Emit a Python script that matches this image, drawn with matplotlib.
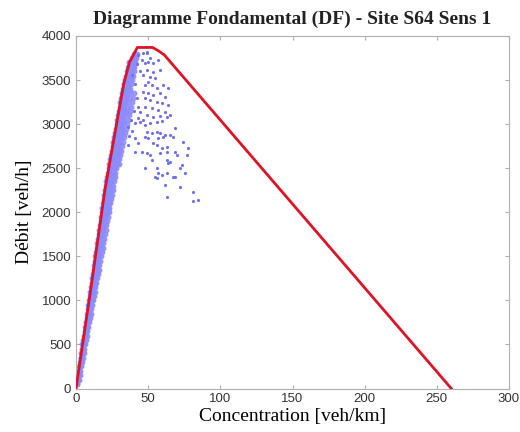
from matplotlib import pyplot as plt

# fundamental diagram (fitted polyline)
df_conc = [0, 10, 20, 27, 33, 37, 42.5, 53, 57, 61.2, 260]
df_flow = [0, 1100, 2250, 2900, 3450, 3700, 3870, 3870, 3833, 3785, 0]

# fluid regime: dense cloud, one row of concentrations per flow level
band_flow = [50, 100, 150, 200, 250, 300, 350, 400, 450, 500, 550, 600, 650,
             700, 750, 800, 850, 900, 950, 1000, 1050, 1100, 1150, 1200, 1250,
             1300, 1350, 1400, 1450, 1500, 1550, 1600, 1650, 1700, 1750, 1800,
             1850, 1900, 1950, 2000, 2050, 2100, 2150, 2200, 2250, 2300, 2350,
             2400, 2450, 2500, 2550, 2600, 2650, 2700, 2750, 2800, 2850, 2900,
             2950, 3000, 3050, 3100, 3150, 3200, 3250, 3300, 3350, 3400, 3450,
             3500, 3550, 3600, 3650, 3700, 3750, 3800]
band_conc = [
    [0.5, 1.0], [0.9, 1.5, 2.0], [1.4, 2.0, 2.6], [1.8, 2.4, 3.1],
    [2.3, 2.9, 3.6], [2.7, 3.4, 4.1], [3.2, 3.8, 4.6], [3.6, 4.3, 5.2],
    [4.1, 4.8, 5.7], [4.5, 5.3, 6.3], [5.0, 5.8, 6.8], [5.5, 6.3, 7.4],
    [5.9, 6.8, 7.9], [6.4, 7.3, 8.5], [6.8, 7.7, 9.0], [7.3, 8.2, 9.6],
    [7.7, 8.7, 10.2], [8.2, 9.2, 10.7], [8.6, 9.7, 11.3],
    [9.1, 10.1, 11.0, 11.9], [9.5, 10.5, 11.5, 12.4], [10.0, 11.0, 12.0, 13.0],
    [10.4, 11.4, 12.5, 13.5], [10.9, 11.9, 13.0, 14.1], [11.3, 12.3, 13.4, 14.6],
    [11.7, 12.8, 13.9, 15.1], [12.2, 13.2, 14.4, 15.7], [12.6, 13.6, 14.8, 16.2],
    [13.0, 14.1, 15.3, 16.8], [13.5, 14.6, 15.8, 17.3], [13.9, 15.0, 16.3, 17.8],
    [14.3, 15.5, 16.8, 18.4], [14.8, 15.9, 17.2, 18.9], [15.2, 16.4, 17.7, 19.4],
    [15.6, 16.8, 18.2, 20.0], [16.1, 17.3, 18.6, 20.5], [16.5, 17.7, 19.1, 21.0],
    [17.0, 18.2, 19.6, 21.6], [17.4, 18.6, 20.0, 22.1],
    [17.8, 19.1, 20.5, 21.6, 22.7], [18.3, 19.5, 20.9, 22.1, 23.2],
    [18.7, 20.0, 21.4, 22.6, 23.8], [19.2, 20.4, 21.8, 23.1, 24.3],
    [19.6, 20.9, 22.3, 23.6, 24.9], [20.0, 21.3, 22.7, 24.0, 25.4],
    [20.5, 21.8, 23.2, 24.5, 25.9], [21.0, 22.3, 23.6, 24.9, 26.4],
    [21.6, 22.8, 24.0, 25.4, 26.8], [22.1, 23.3, 24.5, 25.8, 27.3],
    [22.7, 23.8, 25.0, 26.3, 27.7], [23.2, 24.3, 25.5, 26.8, 28.2, 29.5],
    [23.8, 24.9, 26.0, 27.3, 28.7, 30.1], [24.3, 25.4, 26.5, 27.8, 29.2, 30.8],
    [24.8, 25.9, 27.0, 28.3, 29.6, 31.5], [25.4, 26.4, 27.6, 28.8, 30.1, 32.0],
    [25.9, 27.0, 28.1, 29.3, 30.5, 32.6], [26.5, 27.5, 28.6, 29.8, 31.1, 33.4],
    [27.0, 28.0, 29.1, 30.3, 31.7, 34.0], [27.5, 28.5, 29.6, 30.9, 32.3, 34.8],
    [28.1, 29.1, 30.2, 31.4, 32.9, 35.5], [28.6, 29.6, 30.7, 32.0, 33.5, 36.0],
    [29.2, 30.2, 31.3, 32.5, 34.0, 36.8], [29.7, 30.7, 31.8, 33.1, 34.7, 37.3],
    [30.3, 31.3, 32.4, 33.6, 35.4, 38.0], [30.8, 31.8, 32.9, 34.2, 36.0, 38.6],
    [31.4, 32.4, 33.5, 34.8, 36.6, 39.5], [31.9, 32.9, 34.0, 35.3, 37.1, 40.2],
    [32.5, 33.5, 34.6, 35.9, 37.7], [33.1, 34.1, 35.2, 36.5, 38.2],
    [33.8, 34.8, 35.9, 37.2, 38.8], [34.6, 35.6, 36.6, 37.8, 39.4],
    [35.4, 36.4, 37.4, 38.5, 39.9], [36.2, 37.2, 38.2, 39.3, 40.5],
    [37.0, 38.0, 39.0, 40.0, 41.0], [38.5, 39.5, 40.5, 41.5],
    [40.0, 41.0, 42.0],
]

# congested regime: scattered measurements
cong_conc = [36.2, 40.9, 44.4, 47.8, 51.3, 55.9, 59.4, 68.6, 49.0, 52.5, 55.9,
             58.2, 61.7, 65.1, 67.4, 47.8, 50.1, 57.0, 60.5, 40.9, 43.2, 74.4,
             53.6, 55.9, 62.9, 59.4, 77.8, 40.9, 45.5, 49.0, 51.3, 58.2, 62.9,
             68.6, 69.8, 76.7, 52.5, 62.9, 64.0, 65.1, 73.3, 47.8, 55.9, 72.1,
             57.0, 59.4, 62.9, 75.5, 54.7, 67.4, 68.6, 55.9, 61.7, 72.1, 81.3,
             62.9, 81.3, 84.3,
             43.2, 46.6, 49.0, 51.3, 45.5, 47.8, 50.1, 53.6, 57.0, 58.2, 53.6,
             49.0, 46.6, 51.3, 54.7, 60.5, 64.0, 50.1, 47.8, 52.5, 55.9, 46.6,
             50.1, 53.6, 58.2, 61.7, 47.8, 51.3, 55.9, 59.4, 64.0, 47.8, 52.5,
             57.0, 61.7, 44.4, 49.0, 53.6, 58.2, 62.9, 65.1, 43.2, 46.6, 49.4,
             39.0, 41.0, 42.0, 43.0, 40.0, 44.0, 42.0, 38.0, 39.0, 37.0, 36.0]
cong_flow = [2972, 3010, 3028, 2991, 3010, 3028, 3036, 2953, 2915, 2897, 2915,
             2897, 2877, 2877, 2858, 2858, 2840, 2840, 2858, 2840, 2783, 2801,
             2783, 2764, 2745, 2726, 2726, 2688, 2688, 2670, 2650, 2670, 2688,
             2688, 2650, 2650, 2593, 2593, 2563, 2574, 2537, 2499, 2499, 2499,
             2449, 2423, 2443, 2443, 2404, 2404, 2397, 2386, 2310, 2291, 2234,
             2177, 2132, 2140,
             3785, 3805, 3823, 3748, 3729, 3691, 3709, 3691, 3729, 3615, 3596,
             3615, 3558, 3539, 3521, 3445, 3408, 3482, 3445, 3445, 3408, 3369,
             3351, 3331, 3351, 3312, 3294, 3275, 3255, 3237, 3218, 3199, 3180,
             3161, 3142, 3142, 3104, 3085, 3097, 3085, 3104, 3067, 3048, 3805,
             3560, 3450, 3300, 3200, 3150, 3600, 3680, 3050, 2920, 2870, 2760]

x_ticks = [0, 50, 100, 150, 200, 250, 300]
y_ticks = [0, 500, 1000, 1500, 2000, 2500, 3000, 3500, 4000]


def main():
    fig = plt.figure(figsize=(5.2, 4.32), dpi=100)
    ax = fig.add_axes([76 / 520, 43.5 / 432, 433 / 520, 352.5 / 432])

    bx = [c for row in band_conc for c in row]
    by = [f for f, row in zip(band_flow, band_conc) for _ in row]
    ax.plot(bx, by, ".", color="#8c8cff", markersize=6.5, alpha=0.85, zorder=2)
    ax.plot(cong_conc, cong_flow, ".", color="#7070e6", markersize=2.5, zorder=2)
    ax.plot(df_conc, df_flow, "-", color="#dc1428", linewidth=2, zorder=3)

    ax.set_xlim(0, 300)
    ax.set_ylim(0, 4000)
    ax.set_xticks(x_ticks)
    ax.set_yticks(y_ticks)
    ax.tick_params(direction="in", top=True, right=True, length=3,
                   color="#b0b0b0", labelsize=9.5, labelcolor="#333333")
    for lab in ax.get_xticklabels() + ax.get_yticklabels():
        lab.set_family("Liberation Sans")
    for s in ax.spines.values():
        s.set_color("#b0b0b0")

    serif = "Liberation Serif"
    ax.set_xlabel("Concentration [veh/km]", family=serif, fontsize=14, labelpad=2)
    ax.set_ylabel("Débit [veh/h]", family=serif, fontsize=14, labelpad=6)
    ax.set_title("Diagramme Fondamental (DF) - Site S64 Sens 1", family=serif,
                 fontsize=14, fontweight="bold", color="#222222", pad=9)

    plt.savefig("out.png", dpi=100)


if __name__ == "__main__":
    main()
